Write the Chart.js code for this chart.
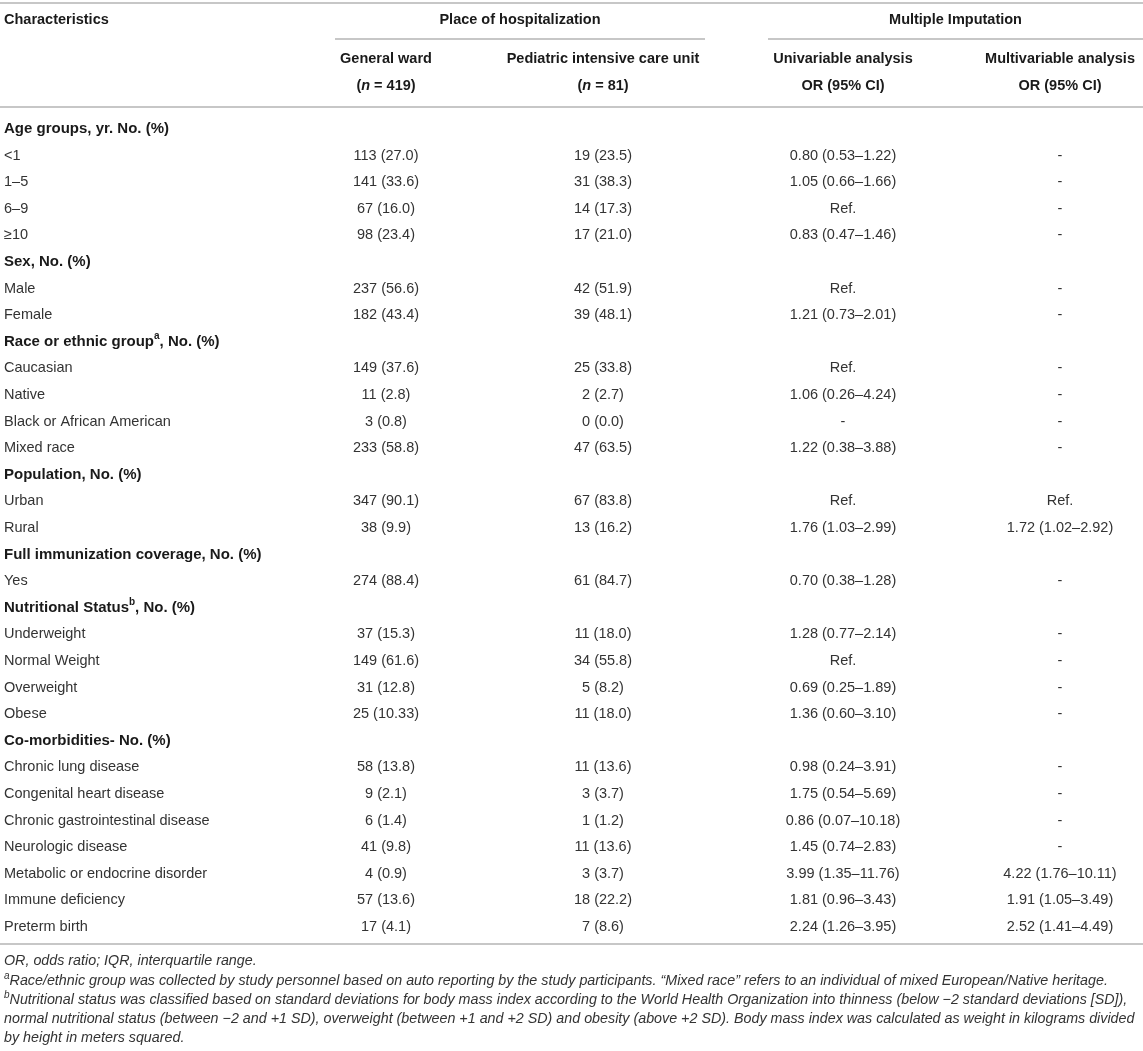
<!DOCTYPE html>
<html>
<head>
<meta charset="utf-8">
<script src="https://cdn.jsdelivr.net/npm/chart.js@4.4.1/dist/chart.umd.min.js"></script>
<style>
  html, body { margin: 0; padding: 0; background: #fff; }
  #table { display: block; }
</style>
</head>
<body>
<canvas id="table" width="1143" height="1051"></canvas>
<script>
// Rows of the table (first column). ^x^ = superscript, _x_ = italic
const characteristics = [
  'Age groups, yr. No. (%)', '<1', '1–5', '6–9', '≥10',
  'Sex, No. (%)', 'Male', 'Female',
  'Race or ethnic group^a^, No. (%)', 'Caucasian', 'Native', 'Black or African American', 'Mixed race',
  'Population, No. (%)', 'Urban', 'Rural',
  'Full immunization coverage, No. (%)', 'Yes',
  'Nutritional Status^b^, No. (%)', 'Underweight', 'Normal Weight', 'Overweight', 'Obese',
  'Co-morbidities- No. (%)', 'Chronic lung disease', 'Congenital heart disease',
  'Chronic gastrointestinal disease', 'Neurologic disease', 'Metabolic or endocrine disorder',
  'Immune deficiency', 'Preterm birth'
];
const groupRows = [0, 5, 8, 13, 16, 18, 23];

const generalWard = [
  '', '113 (27.0)', '141 (33.6)', '67 (16.0)', '98 (23.4)',
  '', '237 (56.6)', '182 (43.4)',
  '', '149 (37.6)', '11 (2.8)', '3 (0.8)', '233 (58.8)',
  '', '347 (90.1)', '38 (9.9)',
  '', '274 (88.4)',
  '', '37 (15.3)', '149 (61.6)', '31 (12.8)', '25 (10.33)',
  '', '58 (13.8)', '9 (2.1)', '6 (1.4)', '41 (9.8)', '4 (0.9)', '57 (13.6)', '17 (4.1)'
];
const picu = [
  '', '19 (23.5)', '31 (38.3)', '14 (17.3)', '17 (21.0)',
  '', '42 (51.9)', '39 (48.1)',
  '', '25 (33.8)', '2 (2.7)', '0 (0.0)', '47 (63.5)',
  '', '67 (83.8)', '13 (16.2)',
  '', '61 (84.7)',
  '', '11 (18.0)', '34 (55.8)', '5 (8.2)', '11 (18.0)',
  '', '11 (13.6)', '3 (3.7)', '1 (1.2)', '11 (13.6)', '3 (3.7)', '18 (22.2)', '7 (8.6)'
];
const univariable = [
  '', '0.80 (0.53–1.22)', '1.05 (0.66–1.66)', 'Ref.', '0.83 (0.47–1.46)',
  '', 'Ref.', '1.21 (0.73–2.01)',
  '', 'Ref.', '1.06 (0.26–4.24)', '-', '1.22 (0.38–3.88)',
  '', 'Ref.', '1.76 (1.03–2.99)',
  '', '0.70 (0.38–1.28)',
  '', '1.28 (0.77–2.14)', 'Ref.', '0.69 (0.25–1.89)', '1.36 (0.60–3.10)',
  '', '0.98 (0.24–3.91)', '1.75 (0.54–5.69)', '0.86 (0.07–10.18)', '1.45 (0.74–2.83)',
  '3.99 (1.35–11.76)', '1.81 (0.96–3.43)', '2.24 (1.26–3.95)'
];
const multivariable = [
  '', '-', '-', '-', '-',
  '', '-', '-',
  '', '-', '-', '-', '-',
  '', 'Ref.', '1.72 (1.02–2.92)',
  '', '-',
  '', '-', '-', '-', '-',
  '', '-', '-', '-', '-', '4.22 (1.76–10.11)', '1.91 (1.05–3.49)', '2.52 (1.41–4.49)'
];

const columnTitles = [
  ['Characteristics'],
  ['General ward', '(_n_ = 419)'],
  ['Pediatric intensive care unit', '(_n_ = 81)'],
  ['Univariable analysis', 'OR (95% CI)'],
  ['Multivariable analysis', 'OR (95% CI)']
];
const spanTitles = ['Place of hospitalization', 'Multiple Imputation'];

const footnotes = [
  'OR, odds ratio; IQR, interquartile range.',
  '^a^Race/ethnic group was collected by study personnel based on auto reporting by the study participants. “Mixed race” refers to an individual of mixed European/Native heritage.',
  '^b^Nutritional status was classified based on standard deviations for body mass index according to the World Health Organization into thinness (below −2 standard deviations [SD]),',
  'normal nutritional status (between −2 and +1 SD), overweight (between +1 and +2 SD) and obesity (above +2 SD). Body mass index was calculated as weight in kilograms divided',
  'by height in meters squared.'
];

// layout (x in px units of the x scale, y in row units of the y scale)
const COL_X = [4, 386, 603, 843, 1060];
const SPAN_X = [[335, 705], [768, 1143]];
const Y = {
  topRule: -4.74, title: -4.10, spanRule: -3.38, sub1: -2.63, sub2: -1.62,
  headRule: -0.83, bottomRule: 30.64, notes: [31.28, 32.03, 32.74, 33.46, 34.17]
};
const FONT = '"Liberation Sans", Arial, Helvetica, sans-serif';
const BODY_SIZE = 14.5;
const GROUP_SIZE = 15;
const NOTE_SIZE = 14.3;

function segments(str) {
  const out = [];
  const re = /\^([^^]*)\^|_([^_]*)_|([^^_]+)/g;
  let m;
  while ((m = re.exec(str))) {
    if (m[1] !== undefined) out.push({ t: m[1], sup: true });
    else if (m[2] !== undefined) out.push({ t: m[2], it: true });
    else out.push({ t: m[3] });
  }
  return out;
}

function richText(ctx, str, x, y, opt) {
  const size = opt.size || BODY_SIZE;
  const base = (opt.italic ? 'italic ' : '') + (opt.bold ? 'bold ' : '');
  const segs = segments(str).map(s => {
    const f = s.sup ? base + Math.round(size * 0.68) + 'px ' + FONT
      : (s.it && !opt.italic ? 'italic ' : '') + base + size + 'px ' + FONT;
    ctx.font = f;
    return Object.assign(s, { font: f, w: ctx.measureText(s.t).width });
  });
  const total = segs.reduce((a, s) => a + s.w, 0);
  let cx = opt.align === 'center' ? x - total / 2 : x;
  ctx.fillStyle = opt.color || '#2b2b2b';
  ctx.textBaseline = 'middle';
  ctx.textAlign = 'left';
  segs.forEach(s => {
    ctx.font = s.font;
    ctx.fillText(s.t, cx, s.sup ? y - size * 0.35 : y);
    cx += s.w;
  });
}

const tablePlugin = {
  id: 'tablePlugin',
  afterDatasetsDraw(chart) {
    const ctx = chart.ctx;
    const xs = chart.scales.x, ys = chart.scales.y;
    ctx.save();

    // rules
    ctx.strokeStyle = '#b4b4b4';
    ctx.lineWidth = 1.5;
    const rule = (x0, x1, yv) => {
      const py = ys.getPixelForValue(yv);
      ctx.beginPath();
      ctx.moveTo(xs.getPixelForValue(x0), py);
      ctx.lineTo(xs.getPixelForValue(x1), py);
      ctx.stroke();
    };
    rule(0, 1143, Y.topRule);
    SPAN_X.forEach(s => rule(s[0], s[1], Y.spanRule));
    rule(0, 1143, Y.headRule);
    rule(0, 1143, Y.bottomRule);

    // header
    richText(ctx, columnTitles[0][0], xs.getPixelForValue(COL_X[0]), ys.getPixelForValue(Y.title), { bold: true, color: '#1a1a1a' });
    spanTitles.forEach((t, i) => {
      const mid = (SPAN_X[i][0] + SPAN_X[i][1]) / 2;
      richText(ctx, t, xs.getPixelForValue(mid), ys.getPixelForValue(Y.title), { bold: true, align: 'center', color: '#1a1a1a' });
    });
    columnTitles.slice(1).forEach((lines, i) => {
      const px = xs.getPixelForValue(COL_X[i + 1]);
      richText(ctx, lines[0], px, ys.getPixelForValue(Y.sub1), { bold: true, align: 'center', color: '#1a1a1a' });
      richText(ctx, lines[1], px, ys.getPixelForValue(Y.sub2), { bold: true, align: 'center', color: '#1a1a1a' });
    });

    // body cells, placed at each dataset element
    chart.data.datasets.forEach((ds, d) => {
      const meta = chart.getDatasetMeta(d);
      meta.data.forEach((el, i) => {
        const txt = ds.cells[i];
        if (!txt) return;
        const bold = d === 0 && groupRows.includes(i);
        richText(ctx, txt, el.x, el.y, {
          bold: bold,
          size: bold ? GROUP_SIZE : BODY_SIZE,
          align: d === 0 ? 'left' : 'center',
          color: bold ? '#1a1a1a' : '#333'
        });
      });
    });

    // footnotes
    footnotes.forEach((t, i) => {
      richText(ctx, t, xs.getPixelForValue(COL_X[0]), ys.getPixelForValue(Y.notes[i]), { italic: true, size: NOTE_SIZE, color: '#333' });
    });
    ctx.restore();
  }
};

const columns = [characteristics, generalWard, picu, univariable, multivariable];

new Chart(document.getElementById('table'), {
  type: 'scatter',
  data: {
    datasets: columns.map((col, c) => ({
      cells: col,
      data: col.map((_, i) => ({ x: COL_X[c], y: i })),
      pointRadius: 0,
      pointHoverRadius: 0,
      showLine: false
    }))
  },
  options: {
    responsive: false,
    animation: false,
    events: [],
    layout: { padding: 0 },
    scales: {
      x: { type: 'linear', min: 0, max: 1143, display: false },
      y: { type: 'linear', min: -4.85, max: 34.66, reverse: true, display: false }
    },
    plugins: { legend: { display: false }, tooltip: { enabled: false } }
  },
  plugins: [tablePlugin]
});
</script>
</body>
</html>
